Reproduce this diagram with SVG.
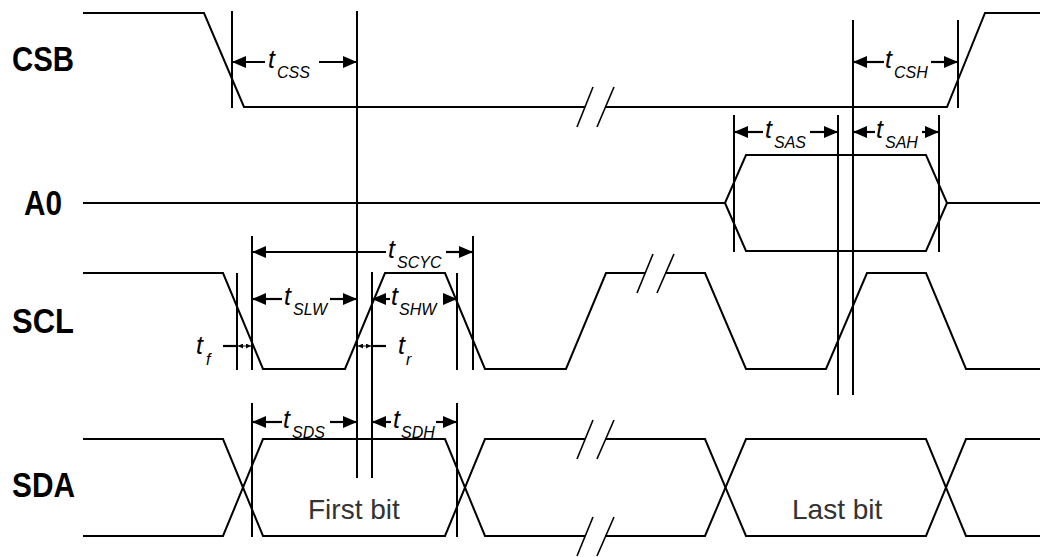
<svg xmlns="http://www.w3.org/2000/svg" width="1040" height="557" viewBox="0 0 1040 557">
<style>
.sig{fill:none;stroke:#000;stroke-width:2;stroke-linejoin:miter}
.ref{fill:none;stroke:#000;stroke-width:2}
.brk{fill:none;stroke:#000;stroke-width:1.6}
.dim{fill:none;stroke:#000;stroke-width:2.2}
.dimA{fill:none;stroke:#000;stroke-width:2.2;marker-end:url(#ah)}
.dimS{fill:none;stroke:#000;stroke-width:2.2;marker-start:url(#ah)}
.tiny{fill:none;stroke:#000;stroke-width:1;marker-start:url(#sm);marker-end:url(#sm)}
.lbl{font-family:"Liberation Sans",Arial,sans-serif;font-weight:bold;font-size:35px;fill:#000}
.t{font-family:"Liberation Sans",Arial,sans-serif;font-style:italic;font-size:25px;fill:#000}
.s{font-family:"Liberation Sans",Arial,sans-serif;font-style:italic;font-size:16px;fill:#000}
.bit{font-family:"Liberation Sans",Arial,sans-serif;font-size:28px;fill:#333}
</style>
<defs>
<marker id="ah" viewBox="0 0 14 12" refX="14" refY="6" markerWidth="14" markerHeight="12" markerUnits="userSpaceOnUse" orient="auto-start-reverse">
<path d="M0,0 L14,6 L0,12 z" fill="#000"/>
</marker>
<marker id="sm" viewBox="0 0 5 5" refX="5" refY="2.5" markerWidth="5" markerHeight="5" markerUnits="userSpaceOnUse" orient="auto-start-reverse">
<path d="M0,0 L5,2.5 L0,5 z" fill="#000"/>
</marker>
</defs>
<rect width="1040" height="557" fill="#fff"/>

<g id="labels">
<text class="lbl" x="12" y="71" textLength="62" lengthAdjust="spacingAndGlyphs">CSB</text>
<text class="lbl" x="24" y="215" textLength="38" lengthAdjust="spacingAndGlyphs">A0</text>
<text class="lbl" x="12" y="333" textLength="62" lengthAdjust="spacingAndGlyphs">SCL</text>
<text class="lbl" x="12" y="497" textLength="63" lengthAdjust="spacingAndGlyphs">SDA</text>
</g>

<g id="CSB">
<polyline class="sig" points="83,13 204,13 244,107 585,107"/>
<polyline class="sig" points="605,107 947,107 985,13 1040,13"/>
<line class="brk" x1="577" y1="127" x2="593" y2="87"/>
<line class="brk" x1="597" y1="127" x2="614" y2="87"/>
</g>

<g id="A0">
<polyline class="sig" points="83,203 725,203 746,155 926,155 947,203 1040,203"/>
<polyline class="sig" points="725,203 746,251 926,251 947,203"/>
</g>

<g id="SCL">
<polyline class="sig" points="83,273 223,273 263,369 345,369 385,273 445,273 485,369 566,369 606,273 645,273"/>
<polyline class="sig" points="665,273 705,273 746,369 826,369 867,273 926,273 966,369 1040,369"/>
<line class="brk" x1="637" y1="293" x2="653" y2="254"/>
<line class="brk" x1="657" y1="293" x2="674" y2="254"/>
</g>

<g id="SDA">
<polyline class="sig" points="83,439 223,439 263,536 445,536 485,439 585,439"/>
<polyline class="sig" points="83,536 223,536 263,439 445,439 485,536 585,536"/>
<polyline class="sig" points="605,439 705,439 746,536 926,536 966,439 1040,439"/>
<polyline class="sig" points="605,536 705,536 746,439 926,439 966,536 1040,536"/>
<line class="brk" x1="577" y1="459" x2="593" y2="420"/>
<line class="brk" x1="597" y1="459" x2="614" y2="420"/>
<line class="brk" x1="577" y1="556" x2="593" y2="517"/>
<line class="brk" x1="597" y1="556" x2="614" y2="517"/>
<text class="bit" x="308" y="519">First bit</text>
<text class="bit" x="792" y="519">Last bit</text>
</g>

<g id="connectors">
<line class="ref" x1="232" y1="11" x2="232" y2="108"/>
<line class="ref" x1="357" y1="11" x2="357" y2="478"/>
<line class="ref" x1="372" y1="272" x2="372" y2="478"/>
<line class="ref" x1="853" y1="20" x2="853" y2="395"/>
<line class="ref" x1="838" y1="115" x2="838" y2="395"/>
<line class="ref" x1="958" y1="20" x2="958" y2="108"/>
<line class="ref" x1="734" y1="115" x2="734" y2="252"/>
<line class="ref" x1="939" y1="115" x2="939" y2="252"/>
<line class="ref" x1="237" y1="273" x2="237" y2="370"/>
<line class="ref" x1="252" y1="236" x2="252" y2="370"/>
<line class="ref" x1="457" y1="273" x2="457" y2="370"/>
<line class="ref" x1="473" y1="236" x2="473" y2="370"/>
<line class="ref" x1="252" y1="403" x2="252" y2="537"/>
<line class="ref" x1="457" y1="403" x2="457" y2="537"/>

<line class="dimS" x1="232" y1="62" x2="265" y2="62"/>
<line class="dimA" x1="319" y1="62" x2="357" y2="62"/>
<line class="dimS" x1="853" y1="62" x2="884" y2="62"/>
<line class="dimA" x1="931" y1="62" x2="958" y2="62"/>
<line class="dimS" x1="734" y1="132" x2="763" y2="132"/>
<line class="dimA" x1="810" y1="132" x2="838" y2="132"/>
<line class="dimS" x1="853" y1="132" x2="875" y2="132"/>
<line class="dimA" x1="922" y1="132" x2="939" y2="132"/>
<line class="dimS" x1="252" y1="252" x2="386" y2="252"/>
<line class="dimA" x1="446" y1="252" x2="473" y2="252"/>
<line class="dimS" x1="252" y1="299" x2="282" y2="299"/>
<line class="dimA" x1="330" y1="299" x2="357" y2="299"/>
<line class="dimS" x1="372" y1="299" x2="390" y2="299"/>
<line class="dimA" x1="443" y1="299" x2="457" y2="299"/>
<line class="dimS" x1="252" y1="422" x2="282" y2="422"/>
<line class="dimA" x1="330" y1="422" x2="357" y2="422"/>
<line class="dimS" x1="372" y1="422" x2="391" y2="422"/>
<line class="dimA" x1="436" y1="422" x2="457" y2="422"/>
<line class="dim" x1="223" y1="346" x2="237" y2="346"/>
<line class="tiny" x1="238" y1="346" x2="251" y2="346"/>
<line class="dim" x1="372" y1="346" x2="386" y2="346"/>
<line class="tiny" x1="358" y1="346" x2="371" y2="346"/>
</g>

<g id="timing-labels">
<text class="t" x="268" y="68">t</text><text class="s" x="277" y="78">CSS</text>
<text class="t" x="885" y="68">t</text><text class="s" x="894" y="78">CSH</text>
<text class="t" x="765" y="138">t</text><text class="s" x="774" y="148">SAS</text>
<text class="t" x="876" y="138">t</text><text class="s" x="885" y="148">SAH</text>
<text class="t" x="388" y="258">t</text><text class="s" x="397" y="268">SCYC</text>
<text class="t" x="284" y="305">t</text><text class="s" x="293" y="315">SLW</text>
<text class="t" x="391" y="305">t</text><text class="s" x="399" y="315">SHW</text>
<text class="t" x="283" y="428">t</text><text class="s" x="292" y="438">SDS</text>
<text class="t" x="393" y="428">t</text><text class="s" x="401" y="438">SDH</text>
<text class="t" x="196" y="354">t</text><text class="s" x="206" y="365">f</text>
<text class="t" x="398" y="354">t</text><text class="s" x="406" y="365">r</text>
</g>
</svg>
